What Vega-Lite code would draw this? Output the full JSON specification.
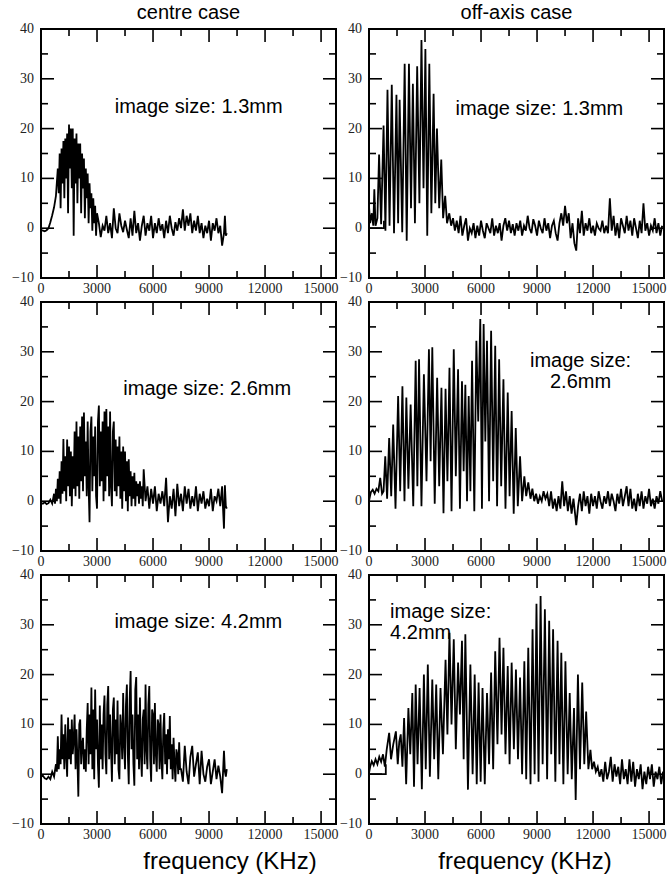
{
"$schema":"https://vega.github.io/schema/vega-lite/v6.json",
"background":"white",
"padding":{"left":11,"top":2,"right":0,"bottom":0},
"config":{
 "view":{"stroke":"black","strokeWidth":2},
 "title":{"font":"Liberation Sans","fontSize":20,"fontWeight":"normal","color":"black","offset":-1},
 "line":{"color":"black","strokeWidth":1.8},
 "rule":{"color":"black","strokeWidth":1.6},
 "text":{"font":"Liberation Sans","fontSize":20,"color":"black"}
},
"datasets":{
"xl":[{"v":0},{"v":3000},{"v":6000},{"v":9000},{"v":12000},{"v":15000}],
"xm":[{"v":1500},{"v":4500},{"v":7500},{"v":10500},{"v":13500}],
"yl":[{"v":-10},{"v":0},{"v":10},{"v":20},{"v":30},{"v":40}],
"ym":[{"v":-5},{"v":5},{"v":15},{"v":25},{"v":35}],
"a":[{"x":0,"y":-0.3},{"x":100,"y":-0.5},{"x":200,"y":-0.6},{"x":300,"y":-0.4},{"x":400,"y":0},{"x":500,"y":1.2},{"x":600,"y":2.6},{"x":700,"y":4.2},{"x":800,"y":6.5},{"x":900,"y":12},{"x":950,"y":7},{"x":1000,"y":15},{"x":1050,"y":4},{"x":1100,"y":16},{"x":1150,"y":9},{"x":1200,"y":17.5},{"x":1250,"y":6},{"x":1300,"y":18},{"x":1350,"y":10},{"x":1400,"y":19},{"x":1450,"y":3},{"x":1500,"y":20.8},{"x":1550,"y":12},{"x":1600,"y":20},{"x":1650,"y":8},{"x":1700,"y":20},{"x":1750,"y":-1.5},{"x":1800,"y":18},{"x":1850,"y":9},{"x":1900,"y":19},{"x":1950,"y":5},{"x":2000,"y":17},{"x":2050,"y":10},{"x":2100,"y":17},{"x":2150,"y":3},{"x":2200,"y":15},{"x":2250,"y":8},{"x":2300,"y":14},{"x":2350,"y":2},{"x":2400,"y":12},{"x":2450,"y":6},{"x":2500,"y":11},{"x":2550,"y":1},{"x":2600,"y":9},{"x":2650,"y":4},{"x":2700,"y":7},{"x":2750,"y":-0.5},{"x":2800,"y":6},{"x":2850,"y":1},{"x":2900,"y":4.5},{"x":2950,"y":-1.5},{"x":3000,"y":3},{"x":3100,"y":1},{"x":3200,"y":-1.8},{"x":3300,"y":0.5},{"x":3400,"y":-0.5},{"x":3500,"y":2.5},{"x":3600,"y":-1},{"x":3700,"y":1},{"x":3800,"y":-2},{"x":3900,"y":4},{"x":4000,"y":0},{"x":4100,"y":-1},{"x":4200,"y":3},{"x":4300,"y":0.5},{"x":4400,"y":-0.8},{"x":4500,"y":1.5},{"x":4600,"y":-0.3},{"x":4700,"y":-2},{"x":4800,"y":2},{"x":4900,"y":-1.5},{"x":5000,"y":3.5},{"x":5100,"y":-1},{"x":5200,"y":1},{"x":5300,"y":-2.5},{"x":5400,"y":0.5},{"x":5500,"y":2.5},{"x":5600,"y":-1.5},{"x":5700,"y":1},{"x":5800,"y":-0.5},{"x":5900,"y":2.5},{"x":6000,"y":-2},{"x":6100,"y":1},{"x":6200,"y":-1},{"x":6300,"y":2},{"x":6400,"y":-0.5},{"x":6500,"y":0.8},{"x":6600,"y":-2},{"x":6700,"y":1.5},{"x":6800,"y":-1},{"x":6900,"y":2.5},{"x":7000,"y":0},{"x":7100,"y":-1.5},{"x":7200,"y":1.2},{"x":7300,"y":-0.5},{"x":7400,"y":2},{"x":7500,"y":0},{"x":7600,"y":3.8},{"x":7700,"y":-0.5},{"x":7800,"y":2.5},{"x":7900,"y":0.5},{"x":8000,"y":3},{"x":8100,"y":-1},{"x":8200,"y":1.5},{"x":8300,"y":-0.5},{"x":8400,"y":2.5},{"x":8500,"y":-1},{"x":8600,"y":1},{"x":8700,"y":-2},{"x":8800,"y":0.5},{"x":8900,"y":-1},{"x":9000,"y":1.5},{"x":9100,"y":-2.5},{"x":9200,"y":1},{"x":9300,"y":-0.5},{"x":9400,"y":2},{"x":9500,"y":-1},{"x":9600,"y":0.5},{"x":9700,"y":-3.5},{"x":9800,"y":-1},{"x":9850,"y":2.5},{"x":9900,"y":-1.5},{"x":9950,"y":-1}],
"b":[{"x":0,"y":0,"s":"r"},{"x":800,"y":0,"s":"r"},{"x":800,"y":1.5,"s":"r"},{"x":0,"y":4.5},{"x":60,"y":1},{"x":150,"y":3},{"x":230,"y":0.5},{"x":285,"y":7.8},{"x":350,"y":0.5},{"x":450,"y":2},{"x":540,"y":14.8},{"x":650,"y":0.8},{"x":780,"y":20.6},{"x":880,"y":-0.5},{"x":990,"y":27.8},{"x":1100,"y":0.5},{"x":1220,"y":28.8},{"x":1340,"y":-1},{"x":1470,"y":26.8},{"x":1560,"y":1},{"x":1640,"y":25.8},{"x":1780,"y":-0.8},{"x":1910,"y":33},{"x":2020,"y":-2.5},{"x":2140,"y":33},{"x":2250,"y":4},{"x":2350,"y":29},{"x":2460,"y":1},{"x":2580,"y":32.5},{"x":2700,"y":5},{"x":2810,"y":37.8},{"x":2920,"y":8},{"x":3020,"y":36},{"x":3120,"y":-1.5},{"x":3230,"y":33},{"x":3340,"y":3},{"x":3460,"y":27},{"x":3550,"y":5},{"x":3640,"y":20},{"x":3760,"y":4},{"x":3870,"y":13.8},{"x":3970,"y":2},{"x":4080,"y":6.5},{"x":4180,"y":1},{"x":4300,"y":3},{"x":4400,"y":0.5},{"x":4500,"y":2},{"x":4600,"y":-0.5},{"x":4700,"y":1.5},{"x":4800,"y":-1},{"x":4900,"y":2.5},{"x":5000,"y":-1.5},{"x":5100,"y":0.5},{"x":5200,"y":2},{"x":5300,"y":-2.5},{"x":5400,"y":0},{"x":5500,"y":-1},{"x":5600,"y":1},{"x":5700,"y":-2},{"x":5800,"y":0.5},{"x":5900,"y":-1.5},{"x":6000,"y":1.5},{"x":6100,"y":-0.5},{"x":6200,"y":-2},{"x":6300,"y":1},{"x":6400,"y":0},{"x":6500,"y":-1},{"x":6600,"y":2},{"x":6700,"y":-1.5},{"x":6800,"y":0.5},{"x":6900,"y":-1},{"x":7000,"y":1},{"x":7100,"y":-2.5},{"x":7200,"y":0.5},{"x":7300,"y":2},{"x":7400,"y":-0.5},{"x":7500,"y":1.5},{"x":7600,"y":-1},{"x":7700,"y":0.8},{"x":7800,"y":-1.5},{"x":7900,"y":1},{"x":8000,"y":-0.5},{"x":8100,"y":1.5},{"x":8200,"y":-1.5},{"x":8300,"y":0.5},{"x":8400,"y":-0.5},{"x":8500,"y":2.5},{"x":8600,"y":0},{"x":8700,"y":-1},{"x":8800,"y":1.8},{"x":8900,"y":0.5},{"x":9000,"y":-1.5},{"x":9100,"y":1.5},{"x":9200,"y":0},{"x":9300,"y":-1},{"x":9400,"y":2},{"x":9500,"y":-0.5},{"x":9600,"y":1},{"x":9700,"y":-2},{"x":9800,"y":0.5},{"x":9900,"y":1.5},{"x":10000,"y":-1},{"x":10100,"y":-2.5},{"x":10200,"y":1},{"x":10300,"y":3},{"x":10400,"y":0.5},{"x":10500,"y":4.5},{"x":10600,"y":1},{"x":10700,"y":3},{"x":10800,"y":-2},{"x":10900,"y":1},{"x":11000,"y":-3},{"x":11100,"y":-4.5},{"x":11200,"y":2},{"x":11300,"y":-1},{"x":11400,"y":3.5},{"x":11500,"y":-1.5},{"x":11600,"y":1},{"x":11700,"y":-0.5},{"x":11800,"y":2},{"x":11900,"y":-1},{"x":12000,"y":0.5},{"x":12100,"y":-1.5},{"x":12200,"y":1},{"x":12300,"y":0},{"x":12400,"y":-0.5},{"x":12500,"y":1.5},{"x":12600,"y":-1},{"x":12700,"y":0.5},{"x":12800,"y":-1},{"x":12900,"y":6},{"x":13000,"y":-0.5},{"x":13100,"y":2.5},{"x":13200,"y":-1.5},{"x":13300,"y":1},{"x":13400,"y":-2},{"x":13500,"y":2},{"x":13600,"y":0.5},{"x":13700,"y":-1},{"x":13800,"y":2.5},{"x":13900,"y":-0.5},{"x":14000,"y":1.5},{"x":14100,"y":-1.5},{"x":14200,"y":2},{"x":14300,"y":0},{"x":14400,"y":-2},{"x":14500,"y":1.5},{"x":14600,"y":-1},{"x":14700,"y":5},{"x":14800,"y":-0.5},{"x":14900,"y":1},{"x":15000,"y":-1.5},{"x":15100,"y":0.5},{"x":15200,"y":-0.5},{"x":15300,"y":2},{"x":15400,"y":-1},{"x":15500,"y":1},{"x":15600,"y":-1.5},{"x":15700,"y":0.5}],
"c":[{"x":0,"y":-0.3},{"x":100,"y":-0.5},{"x":200,"y":-0.2},{"x":300,"y":-0.6},{"x":400,"y":-0.4},{"x":500,"y":0.3},{"x":600,"y":-0.5},{"x":700,"y":1.5},{"x":750,"y":-0.5},{"x":800,"y":2.5},{"x":850,"y":0},{"x":900,"y":4.5},{"x":950,"y":0.5},{"x":1000,"y":6},{"x":1050,"y":-0.5},{"x":1100,"y":8},{"x":1150,"y":1.5},{"x":1200,"y":12.5},{"x":1250,"y":2},{"x":1300,"y":9},{"x":1350,"y":0},{"x":1400,"y":12.4},{"x":1450,"y":3},{"x":1500,"y":11},{"x":1550,"y":1},{"x":1600,"y":10},{"x":1650,"y":-1},{"x":1700,"y":9},{"x":1750,"y":2.5},{"x":1800,"y":14},{"x":1850,"y":1},{"x":1900,"y":16},{"x":1950,"y":3},{"x":2000,"y":13},{"x":2050,"y":0.5},{"x":2100,"y":15},{"x":2150,"y":4},{"x":2200,"y":17},{"x":2250,"y":2},{"x":2300,"y":17.8},{"x":2350,"y":5},{"x":2400,"y":12},{"x":2450,"y":1},{"x":2500,"y":16},{"x":2550,"y":3},{"x":2600,"y":-4.2},{"x":2650,"y":14},{"x":2700,"y":17},{"x":2750,"y":2},{"x":2800,"y":13},{"x":2850,"y":5},{"x":2900,"y":15},{"x":2950,"y":1},{"x":3000,"y":-1.5},{"x":3050,"y":16},{"x":3100,"y":19.2},{"x":3150,"y":3},{"x":3200,"y":14},{"x":3250,"y":4},{"x":3300,"y":16},{"x":3350,"y":0},{"x":3400,"y":18},{"x":3450,"y":2},{"x":3500,"y":18.5},{"x":3550,"y":5},{"x":3600,"y":15},{"x":3650,"y":1},{"x":3700,"y":18},{"x":3750,"y":3},{"x":3800,"y":-1},{"x":3850,"y":14},{"x":3900,"y":16},{"x":3950,"y":2},{"x":4000,"y":12.4},{"x":4050,"y":1},{"x":4100,"y":11},{"x":4150,"y":3},{"x":4200,"y":13},{"x":4250,"y":0.5},{"x":4300,"y":10},{"x":4350,"y":-1.5},{"x":4400,"y":11},{"x":4450,"y":2},{"x":4500,"y":10},{"x":4550,"y":0},{"x":4600,"y":8},{"x":4650,"y":-2},{"x":4700,"y":8.4},{"x":4750,"y":1},{"x":4800,"y":6},{"x":4850,"y":-1},{"x":4900,"y":5},{"x":4950,"y":0.5},{"x":5000,"y":5.7},{"x":5050,"y":-1},{"x":5100,"y":4},{"x":5150,"y":1},{"x":5200,"y":3.5},{"x":5250,"y":-0.5},{"x":5300,"y":4},{"x":5350,"y":0.5},{"x":5400,"y":3},{"x":5450,"y":-1},{"x":5500,"y":6.4},{"x":5600,"y":0},{"x":5700,"y":3},{"x":5800,"y":-1.5},{"x":5900,"y":2.5},{"x":6000,"y":-0.5},{"x":6100,"y":3},{"x":6200,"y":-2},{"x":6300,"y":1.5},{"x":6400,"y":-0.5},{"x":6500,"y":2},{"x":6600,"y":-1},{"x":6700,"y":4.7},{"x":6800,"y":-4.2},{"x":6900,"y":1},{"x":7000,"y":-1.5},{"x":7100,"y":2.5},{"x":7200,"y":-3},{"x":7300,"y":3.5},{"x":7400,"y":-1},{"x":7500,"y":1.5},{"x":7600,"y":-2},{"x":7700,"y":3},{"x":7800,"y":-0.5},{"x":7900,"y":2.5},{"x":8000,"y":-1.5},{"x":8100,"y":1},{"x":8200,"y":-1},{"x":8300,"y":3},{"x":8400,"y":-2},{"x":8500,"y":1.5},{"x":8600,"y":-0.5},{"x":8700,"y":2},{"x":8800,"y":-1.5},{"x":8900,"y":0.5},{"x":9000,"y":-1},{"x":9100,"y":2.5},{"x":9200,"y":-2},{"x":9300,"y":1},{"x":9400,"y":0},{"x":9500,"y":2.5},{"x":9600,"y":-1},{"x":9700,"y":3},{"x":9750,"y":-1.5},{"x":9800,"y":-5.5},{"x":9850,"y":3.2},{"x":9900,"y":-1},{"x":9950,"y":-1.5}],
"d":[{"x":0,"y":0},{"x":50,"y":1},{"x":100,"y":1.8},{"x":200,"y":2.3},{"x":300,"y":1.5},{"x":400,"y":2.5},{"x":500,"y":2},{"x":600,"y":4.7},{"x":700,"y":1.5},{"x":780,"y":2},{"x":870,"y":9},{"x":970,"y":0.5},{"x":1080,"y":12.7},{"x":1190,"y":1},{"x":1295,"y":15.4},{"x":1420,"y":-1.5},{"x":1560,"y":21.1},{"x":1670,"y":2},{"x":1790,"y":23.1},{"x":1900,"y":0},{"x":2000,"y":20.8},{"x":2110,"y":2.5},{"x":2230,"y":19.4},{"x":2370,"y":-1},{"x":2500,"y":28.2},{"x":2590,"y":3},{"x":2680,"y":28.5},{"x":2810,"y":-1},{"x":2940,"y":25.5},{"x":3080,"y":4},{"x":3210,"y":30.5},{"x":3300,"y":8},{"x":3390,"y":30.9},{"x":3520,"y":-0.5},{"x":3650,"y":24.8},{"x":3760,"y":3},{"x":3880,"y":22.8},{"x":3990,"y":-2.4},{"x":4100,"y":22.6},{"x":4200,"y":4},{"x":4310,"y":26.8},{"x":4420,"y":-2},{"x":4540,"y":30.5},{"x":4650,"y":5},{"x":4770,"y":26.5},{"x":4870,"y":-1.5},{"x":4980,"y":24.1},{"x":5070,"y":6},{"x":5160,"y":23.4},{"x":5250,"y":0},{"x":5340,"y":21.1},{"x":5430,"y":2},{"x":5520,"y":28.2},{"x":5640,"y":-2},{"x":5750,"y":32.2},{"x":5850,"y":16},{"x":5960,"y":36.6},{"x":6050,"y":-1.5},{"x":6140,"y":35.6},{"x":6230,"y":12},{"x":6320,"y":32.2},{"x":6430,"y":0},{"x":6540,"y":34.2},{"x":6650,"y":4},{"x":6760,"y":31.2},{"x":6860,"y":-1},{"x":6970,"y":28.5},{"x":7080,"y":3},{"x":7200,"y":24.5},{"x":7310,"y":-1.5},{"x":7430,"y":21.8},{"x":7530,"y":1},{"x":7640,"y":18.1},{"x":7750,"y":-2.5},{"x":7860,"y":14.7},{"x":7970,"y":-1},{"x":8090,"y":9},{"x":8200,"y":0},{"x":8320,"y":5},{"x":8420,"y":1},{"x":8530,"y":3.8},{"x":8650,"y":0.5},{"x":8750,"y":2.5},{"x":8850,"y":0},{"x":8950,"y":1.5},{"x":9050,"y":-0.5},{"x":9150,"y":1},{"x":9250,"y":0},{"x":9350,"y":2},{"x":9450,"y":0.5},{"x":9550,"y":1.5},{"x":9650,"y":-1},{"x":9750,"y":2},{"x":9850,"y":-1.5},{"x":9950,"y":0.5},{"x":10050,"y":-2},{"x":10150,"y":1},{"x":10250,"y":-1.5},{"x":10350,"y":4},{"x":10450,"y":-1},{"x":10550,"y":2},{"x":10650,"y":-2},{"x":10750,"y":1},{"x":10850,"y":-2.5},{"x":10950,"y":0.5},{"x":11050,"y":-3},{"x":11100,"y":-4.8},{"x":11200,"y":-1},{"x":11300,"y":1.5},{"x":11400,"y":-2},{"x":11500,"y":2},{"x":11600,"y":-1},{"x":11700,"y":1},{"x":11800,"y":-2.5},{"x":11900,"y":1.5},{"x":12000,"y":-1},{"x":12100,"y":1},{"x":12200,"y":-1.5},{"x":12300,"y":2},{"x":12400,"y":0},{"x":12500,"y":-1.5},{"x":12600,"y":1},{"x":12700,"y":-0.5},{"x":12800,"y":2},{"x":12900,"y":-1},{"x":13000,"y":1.5},{"x":13100,"y":0},{"x":13200,"y":-2},{"x":13300,"y":1.5},{"x":13400,"y":-0.5},{"x":13500,"y":2.5},{"x":13600,"y":-1},{"x":13700,"y":1},{"x":13800,"y":3},{"x":13900,"y":-1},{"x":14000,"y":2.5},{"x":14100,"y":-1.5},{"x":14200,"y":0.5},{"x":14300,"y":-2},{"x":14400,"y":1.5},{"x":14500,"y":-1},{"x":14600,"y":2},{"x":14700,"y":-1.5},{"x":14800,"y":1},{"x":14900,"y":-0.5},{"x":15000,"y":2.5},{"x":15100,"y":-1},{"x":15200,"y":0.5},{"x":15300,"y":-1.5},{"x":15400,"y":1},{"x":15500,"y":-0.5},{"x":15600,"y":2},{"x":15700,"y":0}],
"e":[{"x":0,"y":-0.5},{"x":100,"y":-0.3},{"x":200,"y":-0.8},{"x":300,"y":-1},{"x":400,"y":-0.5},{"x":500,"y":-1},{"x":600,"y":0.5},{"x":700,"y":-0.5},{"x":800,"y":2},{"x":850,"y":0.5},{"x":900,"y":7.6},{"x":950,"y":1},{"x":1000,"y":5},{"x":1050,"y":2},{"x":1100,"y":12},{"x":1150,"y":3},{"x":1200,"y":8},{"x":1250,"y":1},{"x":1300,"y":10},{"x":1350,"y":4},{"x":1400,"y":-0.5},{"x":1450,"y":11.4},{"x":1500,"y":3},{"x":1550,"y":9},{"x":1600,"y":2},{"x":1650,"y":11},{"x":1700,"y":4},{"x":1750,"y":7},{"x":1800,"y":12},{"x":1850,"y":1},{"x":1900,"y":9},{"x":1950,"y":3},{"x":2000,"y":-4.5},{"x":2050,"y":10},{"x":2100,"y":11},{"x":2150,"y":2},{"x":2200,"y":6},{"x":2250,"y":7.3},{"x":2300,"y":1},{"x":2350,"y":5},{"x":2400,"y":0.5},{"x":2450,"y":9},{"x":2500,"y":14.3},{"x":2550,"y":2},{"x":2600,"y":12},{"x":2650,"y":4},{"x":2700,"y":17.4},{"x":2750,"y":1},{"x":2800,"y":13},{"x":2850,"y":-1},{"x":2900,"y":17},{"x":2950,"y":5},{"x":3000,"y":11},{"x":3050,"y":2},{"x":3100,"y":-2.7},{"x":3150,"y":13.8},{"x":3200,"y":3},{"x":3250,"y":10},{"x":3300,"y":1},{"x":3350,"y":12},{"x":3400,"y":15.8},{"x":3450,"y":4},{"x":3500,"y":0},{"x":3550,"y":14},{"x":3600,"y":17.7},{"x":3650,"y":3},{"x":3700,"y":12},{"x":3750,"y":5},{"x":3800,"y":-1.5},{"x":3850,"y":13},{"x":3900,"y":15.4},{"x":3950,"y":2},{"x":4000,"y":11},{"x":4050,"y":4},{"x":4100,"y":14.8},{"x":4150,"y":1},{"x":4200,"y":-1},{"x":4250,"y":12},{"x":4300,"y":9},{"x":4350,"y":3},{"x":4400,"y":16.3},{"x":4450,"y":6},{"x":4500,"y":1},{"x":4550,"y":14},{"x":4600,"y":18},{"x":4650,"y":4},{"x":4700,"y":-2},{"x":4750,"y":15},{"x":4800,"y":20.7},{"x":4850,"y":5},{"x":4900,"y":12},{"x":4950,"y":2},{"x":5000,"y":-2.3},{"x":5050,"y":17},{"x":5100,"y":19.5},{"x":5150,"y":3},{"x":5200,"y":12},{"x":5250,"y":1},{"x":5300,"y":15.4},{"x":5350,"y":4},{"x":5400,"y":-0.5},{"x":5450,"y":11},{"x":5500,"y":13},{"x":5550,"y":2},{"x":5600,"y":18},{"x":5650,"y":5},{"x":5700,"y":1},{"x":5750,"y":14},{"x":5800,"y":17.7},{"x":5850,"y":3},{"x":5900,"y":-1.5},{"x":5950,"y":13},{"x":6000,"y":12},{"x":6050,"y":2},{"x":6100,"y":14.3},{"x":6150,"y":4},{"x":6200,"y":0.5},{"x":6250,"y":11},{"x":6300,"y":10},{"x":6350,"y":1},{"x":6400,"y":12},{"x":6450,"y":3},{"x":6500,"y":-1},{"x":6550,"y":9},{"x":6600,"y":12.3},{"x":6650,"y":2},{"x":6700,"y":8},{"x":6750,"y":0},{"x":6800,"y":9},{"x":6850,"y":3},{"x":6900,"y":11.7},{"x":6950,"y":1},{"x":7000,"y":6},{"x":7050,"y":-1},{"x":7100,"y":7.3},{"x":7150,"y":2},{"x":7200,"y":-1.5},{"x":7250,"y":5},{"x":7300,"y":4},{"x":7350,"y":0},{"x":7400,"y":6.4},{"x":7450,"y":1},{"x":7500,"y":1},{"x":7600,"y":-1.5},{"x":7700,"y":5.7},{"x":7800,"y":0.5},{"x":7900,"y":-2},{"x":8000,"y":3.5},{"x":8100,"y":5.7},{"x":8200,"y":-0.5},{"x":8300,"y":2},{"x":8400,"y":4.4},{"x":8500,"y":-2},{"x":8600,"y":4.7},{"x":8700,"y":0},{"x":8800,"y":-1.5},{"x":8900,"y":1.5},{"x":9000,"y":3},{"x":9100,"y":-2},{"x":9200,"y":0.5},{"x":9300,"y":3},{"x":9400,"y":-1},{"x":9500,"y":1.7},{"x":9600,"y":-0.5},{"x":9700,"y":-3.8},{"x":9800,"y":4.7},{"x":9850,"y":0.5},{"x":9900,"y":-0.5},{"x":9950,"y":1}],
"f":[{"x":0,"y":0,"s":"r"},{"x":900,"y":0,"s":"r"},{"x":900,"y":2,"s":"r"},{"x":0,"y":0.2},{"x":60,"y":1.5},{"x":150,"y":2.6},{"x":250,"y":1.8},{"x":350,"y":3},{"x":450,"y":2},{"x":550,"y":3.5},{"x":650,"y":2.5},{"x":750,"y":4},{"x":850,"y":1.5},{"x":950,"y":5},{"x":1080,"y":8.3},{"x":1180,"y":3},{"x":1300,"y":6},{"x":1440,"y":8.6},{"x":1540,"y":2},{"x":1620,"y":6.5},{"x":1700,"y":8},{"x":1790,"y":1.5},{"x":1880,"y":11.3},{"x":1990,"y":-2},{"x":2110,"y":13.3},{"x":2210,"y":4},{"x":2320,"y":16.3},{"x":2410,"y":-2.5},{"x":2500,"y":18},{"x":2600,"y":2},{"x":2710,"y":17.3},{"x":2830,"y":-3},{"x":2940,"y":20},{"x":3040,"y":1},{"x":3150,"y":22},{"x":3260,"y":-0.5},{"x":3390,"y":19},{"x":3490,"y":3},{"x":3600,"y":18},{"x":3710,"y":-1},{"x":3830,"y":17.3},{"x":3960,"y":4},{"x":4100,"y":23},{"x":4200,"y":8},{"x":4310,"y":28.4},{"x":4420,"y":10},{"x":4540,"y":27.1},{"x":4650,"y":5},{"x":4770,"y":22.4},{"x":4870,"y":12},{"x":4980,"y":26.8},{"x":5070,"y":3},{"x":5160,"y":28.1},{"x":5300,"y":-3.1},{"x":5430,"y":22},{"x":5550,"y":0},{"x":5660,"y":20},{"x":5770,"y":-2},{"x":5870,"y":18.4},{"x":5980,"y":-1.5},{"x":6080,"y":17.3},{"x":6200,"y":-2},{"x":6320,"y":16.3},{"x":6430,"y":2},{"x":6540,"y":20.4},{"x":6650,"y":1},{"x":6760,"y":24.7},{"x":6880,"y":6},{"x":6990,"y":27.4},{"x":7100,"y":8},{"x":7200,"y":25.4},{"x":7310,"y":4},{"x":7430,"y":21.7},{"x":7530,"y":2},{"x":7640,"y":22.4},{"x":7760,"y":5},{"x":7870,"y":21},{"x":7980,"y":3},{"x":8090,"y":19.4},{"x":8200,"y":0},{"x":8320,"y":22.7},{"x":8420,"y":-1},{"x":8530,"y":25.4},{"x":8650,"y":-2},{"x":8760,"y":29.1},{"x":8870,"y":0},{"x":8970,"y":34.2},{"x":9080,"y":-1.5},{"x":9190,"y":35.8},{"x":9300,"y":2},{"x":9420,"y":33.1},{"x":9540,"y":-1},{"x":9650,"y":30.8},{"x":9760,"y":4},{"x":9860,"y":29.1},{"x":9980,"y":-1.5},{"x":10100,"y":26.8},{"x":10200,"y":2},{"x":10300,"y":24.4},{"x":10410,"y":-2},{"x":10520,"y":22.7},{"x":10640,"y":0},{"x":10750,"y":16.3},{"x":10860,"y":-1},{"x":10980,"y":13.3},{"x":11070,"y":-5.2},{"x":11190,"y":20},{"x":11300,"y":1},{"x":11420,"y":18.4},{"x":11530,"y":2},{"x":11630,"y":12.6},{"x":11750,"y":1},{"x":11860,"y":4.9},{"x":11950,"y":1},{"x":12050,"y":2.5},{"x":12150,"y":0.5},{"x":12250,"y":1.5},{"x":12350,"y":-0.5},{"x":12450,"y":1},{"x":12550,"y":-1.5},{"x":12650,"y":2.5},{"x":12750,"y":-1},{"x":12850,"y":0.5},{"x":12950,"y":3.5},{"x":13050,"y":-1.5},{"x":13150,"y":2},{"x":13250,"y":-0.5},{"x":13350,"y":1.5},{"x":13450,"y":-2},{"x":13550,"y":3},{"x":13650,"y":-1},{"x":13750,"y":1},{"x":13850,"y":-2},{"x":13950,"y":3},{"x":14050,"y":-1.5},{"x":14150,"y":2.5},{"x":14250,"y":-2.5},{"x":14350,"y":1},{"x":14450,"y":-1},{"x":14550,"y":2},{"x":14650,"y":-3},{"x":14750,"y":0.5},{"x":14850,"y":-2},{"x":14950,"y":1.5},{"x":15050,"y":-1},{"x":15150,"y":2},{"x":15250,"y":-2.5},{"x":15350,"y":0.5},{"x":15450,"y":-1},{"x":15550,"y":1.5},{"x":15650,"y":-2},{"x":15750,"y":0.5}]
},
"columns":2,
"spacing":{"row":24,"column":33},
"bounds":"flush",
"concat":[
{"width":295,"height":249,"title":"centre case",
 "layer":[
  {"data":{"name":"a"},"mark":"line","encoding":{"x":{"field":"x","type":"quantitative","scale":{"domain":[0,15800],"nice":false,"zero":false},"axis":null},"y":{"field":"y","type":"quantitative","scale":{"domain":[-10,40],"nice":false,"zero":false},"axis":null},"detail":{"field":"s"}}},
  {"data":{"name":"xl"},"mark":"rule","encoding":{"x":{"field":"v","type":"quantitative","axis":null},"y":{"datum":-10,"axis":null},"y2":{"datum":-7.39}}},
  {"data":{"name":"xm"},"mark":"rule","encoding":{"x":{"field":"v","type":"quantitative","axis":null},"y":{"datum":-10,"axis":null},"y2":{"datum":-8.59}}},
  {"data":{"name":"xl"},"mark":"rule","encoding":{"x":{"field":"v","type":"quantitative","axis":null},"y":{"datum":40,"axis":null},"y2":{"datum":37.39}}},
  {"data":{"name":"xm"},"mark":"rule","encoding":{"x":{"field":"v","type":"quantitative","axis":null},"y":{"datum":40,"axis":null},"y2":{"datum":38.59}}},
  {"data":{"name":"yl"},"mark":"rule","encoding":{"y":{"field":"v","type":"quantitative","axis":null},"x":{"datum":0,"axis":null},"x2":{"datum":696}}},
  {"data":{"name":"ym"},"mark":"rule","encoding":{"y":{"field":"v","type":"quantitative","axis":null},"x":{"datum":0,"axis":null},"x2":{"datum":375}}},
  {"data":{"name":"yl"},"mark":"rule","encoding":{"y":{"field":"v","type":"quantitative","axis":null},"x":{"datum":15800,"axis":null},"x2":{"datum":15104}}},
  {"data":{"name":"ym"},"mark":"rule","encoding":{"y":{"field":"v","type":"quantitative","axis":null},"x":{"datum":15800,"axis":null},"x2":{"datum":15425}}},
  {"data":{"name":"xl"},"mark":{"type":"text","font":"Liberation Serif","fontSize":14,"color":"#222","align":"center","baseline":"top","dy":4},"encoding":{"x":{"field":"v","type":"quantitative","axis":null},"y":{"datum":-10,"axis":null},"text":{"field":"v","type":"quantitative","format":"d"}}},
  {"data":{"name":"yl"},"mark":{"type":"text","font":"Liberation Serif","fontSize":14,"color":"#222","align":"right","baseline":"middle","dx":-7},"encoding":{"y":{"field":"v","type":"quantitative","axis":null},"x":{"datum":0,"axis":null},"text":{"field":"v","type":"quantitative","format":"d"}}},
  {"data":{"values":[{}]},"mark":{"type":"text","text":"image size: 1.3mm","align":"left","baseline":"middle"},"encoding":{"x":{"datum":3950,"axis":null},"y":{"datum":24.3,"axis":null}}}
 ]},
{"width":295,"height":249,"title":"off-axis case",
 "layer":[
  {"data":{"name":"b"},"mark":"line","encoding":{"x":{"field":"x","type":"quantitative","scale":{"domain":[0,15800],"nice":false,"zero":false},"axis":null},"y":{"field":"y","type":"quantitative","scale":{"domain":[-10,40],"nice":false,"zero":false},"axis":null},"detail":{"field":"s"}}},
  {"data":{"name":"xl"},"mark":"rule","encoding":{"x":{"field":"v","type":"quantitative","axis":null},"y":{"datum":-10,"axis":null},"y2":{"datum":-7.39}}},
  {"data":{"name":"xm"},"mark":"rule","encoding":{"x":{"field":"v","type":"quantitative","axis":null},"y":{"datum":-10,"axis":null},"y2":{"datum":-8.59}}},
  {"data":{"name":"xl"},"mark":"rule","encoding":{"x":{"field":"v","type":"quantitative","axis":null},"y":{"datum":40,"axis":null},"y2":{"datum":37.39}}},
  {"data":{"name":"xm"},"mark":"rule","encoding":{"x":{"field":"v","type":"quantitative","axis":null},"y":{"datum":40,"axis":null},"y2":{"datum":38.59}}},
  {"data":{"name":"yl"},"mark":"rule","encoding":{"y":{"field":"v","type":"quantitative","axis":null},"x":{"datum":0,"axis":null},"x2":{"datum":696}}},
  {"data":{"name":"ym"},"mark":"rule","encoding":{"y":{"field":"v","type":"quantitative","axis":null},"x":{"datum":0,"axis":null},"x2":{"datum":375}}},
  {"data":{"name":"yl"},"mark":"rule","encoding":{"y":{"field":"v","type":"quantitative","axis":null},"x":{"datum":15800,"axis":null},"x2":{"datum":15104}}},
  {"data":{"name":"ym"},"mark":"rule","encoding":{"y":{"field":"v","type":"quantitative","axis":null},"x":{"datum":15800,"axis":null},"x2":{"datum":15425}}},
  {"data":{"name":"xl"},"mark":{"type":"text","font":"Liberation Serif","fontSize":14,"color":"#222","align":"center","baseline":"top","dy":4},"encoding":{"x":{"field":"v","type":"quantitative","axis":null},"y":{"datum":-10,"axis":null},"text":{"field":"v","type":"quantitative","format":"d"}}},
  {"data":{"name":"yl"},"mark":{"type":"text","font":"Liberation Serif","fontSize":14,"color":"#222","align":"right","baseline":"middle","dx":-7},"encoding":{"y":{"field":"v","type":"quantitative","axis":null},"x":{"datum":0,"axis":null},"text":{"field":"v","type":"quantitative","format":"d"}}},
  {"data":{"values":[{}]},"mark":{"type":"text","text":"image size: 1.3mm","align":"left","baseline":"middle"},"encoding":{"x":{"datum":4630,"axis":null},"y":{"datum":24,"axis":null}}}
 ]},
{"width":295,"height":249,
 "layer":[
  {"data":{"name":"c"},"mark":"line","encoding":{"x":{"field":"x","type":"quantitative","scale":{"domain":[0,15800],"nice":false,"zero":false},"axis":null},"y":{"field":"y","type":"quantitative","scale":{"domain":[-10,40],"nice":false,"zero":false},"axis":null},"detail":{"field":"s"}}},
  {"data":{"name":"xl"},"mark":"rule","encoding":{"x":{"field":"v","type":"quantitative","axis":null},"y":{"datum":-10,"axis":null},"y2":{"datum":-7.39}}},
  {"data":{"name":"xm"},"mark":"rule","encoding":{"x":{"field":"v","type":"quantitative","axis":null},"y":{"datum":-10,"axis":null},"y2":{"datum":-8.59}}},
  {"data":{"name":"xl"},"mark":"rule","encoding":{"x":{"field":"v","type":"quantitative","axis":null},"y":{"datum":40,"axis":null},"y2":{"datum":37.39}}},
  {"data":{"name":"xm"},"mark":"rule","encoding":{"x":{"field":"v","type":"quantitative","axis":null},"y":{"datum":40,"axis":null},"y2":{"datum":38.59}}},
  {"data":{"name":"yl"},"mark":"rule","encoding":{"y":{"field":"v","type":"quantitative","axis":null},"x":{"datum":0,"axis":null},"x2":{"datum":696}}},
  {"data":{"name":"ym"},"mark":"rule","encoding":{"y":{"field":"v","type":"quantitative","axis":null},"x":{"datum":0,"axis":null},"x2":{"datum":375}}},
  {"data":{"name":"yl"},"mark":"rule","encoding":{"y":{"field":"v","type":"quantitative","axis":null},"x":{"datum":15800,"axis":null},"x2":{"datum":15104}}},
  {"data":{"name":"ym"},"mark":"rule","encoding":{"y":{"field":"v","type":"quantitative","axis":null},"x":{"datum":15800,"axis":null},"x2":{"datum":15425}}},
  {"data":{"name":"xl"},"mark":{"type":"text","font":"Liberation Serif","fontSize":14,"color":"#222","align":"center","baseline":"top","dy":4},"encoding":{"x":{"field":"v","type":"quantitative","axis":null},"y":{"datum":-10,"axis":null},"text":{"field":"v","type":"quantitative","format":"d"}}},
  {"data":{"name":"yl"},"mark":{"type":"text","font":"Liberation Serif","fontSize":14,"color":"#222","align":"right","baseline":"middle","dx":-7},"encoding":{"y":{"field":"v","type":"quantitative","axis":null},"x":{"datum":0,"axis":null},"text":{"field":"v","type":"quantitative","format":"d"}}},
  {"data":{"values":[{}]},"mark":{"type":"text","text":"image size: 2.6mm","align":"left","baseline":"middle"},"encoding":{"x":{"datum":4410,"axis":null},"y":{"datum":22.5,"axis":null}}}
 ]},
{"width":295,"height":249,
 "layer":[
  {"data":{"name":"d"},"mark":"line","encoding":{"x":{"field":"x","type":"quantitative","scale":{"domain":[0,15800],"nice":false,"zero":false},"axis":null},"y":{"field":"y","type":"quantitative","scale":{"domain":[-10,40],"nice":false,"zero":false},"axis":null},"detail":{"field":"s"}}},
  {"data":{"name":"xl"},"mark":"rule","encoding":{"x":{"field":"v","type":"quantitative","axis":null},"y":{"datum":-10,"axis":null},"y2":{"datum":-7.39}}},
  {"data":{"name":"xm"},"mark":"rule","encoding":{"x":{"field":"v","type":"quantitative","axis":null},"y":{"datum":-10,"axis":null},"y2":{"datum":-8.59}}},
  {"data":{"name":"xl"},"mark":"rule","encoding":{"x":{"field":"v","type":"quantitative","axis":null},"y":{"datum":40,"axis":null},"y2":{"datum":37.39}}},
  {"data":{"name":"xm"},"mark":"rule","encoding":{"x":{"field":"v","type":"quantitative","axis":null},"y":{"datum":40,"axis":null},"y2":{"datum":38.59}}},
  {"data":{"name":"yl"},"mark":"rule","encoding":{"y":{"field":"v","type":"quantitative","axis":null},"x":{"datum":0,"axis":null},"x2":{"datum":696}}},
  {"data":{"name":"ym"},"mark":"rule","encoding":{"y":{"field":"v","type":"quantitative","axis":null},"x":{"datum":0,"axis":null},"x2":{"datum":375}}},
  {"data":{"name":"yl"},"mark":"rule","encoding":{"y":{"field":"v","type":"quantitative","axis":null},"x":{"datum":15800,"axis":null},"x2":{"datum":15104}}},
  {"data":{"name":"ym"},"mark":"rule","encoding":{"y":{"field":"v","type":"quantitative","axis":null},"x":{"datum":15800,"axis":null},"x2":{"datum":15425}}},
  {"data":{"name":"xl"},"mark":{"type":"text","font":"Liberation Serif","fontSize":14,"color":"#222","align":"center","baseline":"top","dy":4},"encoding":{"x":{"field":"v","type":"quantitative","axis":null},"y":{"datum":-10,"axis":null},"text":{"field":"v","type":"quantitative","format":"d"}}},
  {"data":{"name":"yl"},"mark":{"type":"text","font":"Liberation Serif","fontSize":14,"color":"#222","align":"right","baseline":"middle","dx":-7},"encoding":{"y":{"field":"v","type":"quantitative","axis":null},"x":{"datum":0,"axis":null},"text":{"field":"v","type":"quantitative","format":"d"}}},
  {"data":{"values":[{}]},"mark":{"type":"text","text":["image size:","2.6mm"],"align":"center","baseline":"middle","lineHeight":21},"encoding":{"x":{"datum":11330,"axis":null},"y":{"datum":28.2,"axis":null}}}
 ]},
{"width":295,"height":249,
 "layer":[
  {"data":{"name":"e"},"mark":"line","encoding":{"x":{"field":"x","type":"quantitative","scale":{"domain":[0,15800],"nice":false,"zero":false},"axis":null},"y":{"field":"y","type":"quantitative","scale":{"domain":[-10,40],"nice":false,"zero":false},"axis":null},"detail":{"field":"s"}}},
  {"data":{"name":"xl"},"mark":"rule","encoding":{"x":{"field":"v","type":"quantitative","axis":null},"y":{"datum":-10,"axis":null},"y2":{"datum":-7.39}}},
  {"data":{"name":"xm"},"mark":"rule","encoding":{"x":{"field":"v","type":"quantitative","axis":null},"y":{"datum":-10,"axis":null},"y2":{"datum":-8.59}}},
  {"data":{"name":"xl"},"mark":"rule","encoding":{"x":{"field":"v","type":"quantitative","axis":null},"y":{"datum":40,"axis":null},"y2":{"datum":37.39}}},
  {"data":{"name":"xm"},"mark":"rule","encoding":{"x":{"field":"v","type":"quantitative","axis":null},"y":{"datum":40,"axis":null},"y2":{"datum":38.59}}},
  {"data":{"name":"yl"},"mark":"rule","encoding":{"y":{"field":"v","type":"quantitative","axis":null},"x":{"datum":0,"axis":null},"x2":{"datum":696}}},
  {"data":{"name":"ym"},"mark":"rule","encoding":{"y":{"field":"v","type":"quantitative","axis":null},"x":{"datum":0,"axis":null},"x2":{"datum":375}}},
  {"data":{"name":"yl"},"mark":"rule","encoding":{"y":{"field":"v","type":"quantitative","axis":null},"x":{"datum":15800,"axis":null},"x2":{"datum":15104}}},
  {"data":{"name":"ym"},"mark":"rule","encoding":{"y":{"field":"v","type":"quantitative","axis":null},"x":{"datum":15800,"axis":null},"x2":{"datum":15425}}},
  {"data":{"name":"xl"},"mark":{"type":"text","font":"Liberation Serif","fontSize":14,"color":"#222","align":"center","baseline":"top","dy":4},"encoding":{"x":{"field":"v","type":"quantitative","axis":null},"y":{"datum":-10,"axis":null},"text":{"field":"v","type":"quantitative","format":"d"}}},
  {"data":{"name":"yl"},"mark":{"type":"text","font":"Liberation Serif","fontSize":14,"color":"#222","align":"right","baseline":"middle","dx":-7},"encoding":{"y":{"field":"v","type":"quantitative","axis":null},"x":{"datum":0,"axis":null},"text":{"field":"v","type":"quantitative","format":"d"}}},
  {"data":{"values":[{}]},"mark":{"type":"text","text":"frequency (KHz)","fontSize":24,"align":"center","baseline":"top","dy":26},"encoding":{"x":{"datum":10120,"axis":null},"y":{"datum":-10,"axis":null}}},
  {"data":{"values":[{}]},"mark":{"type":"text","text":"image size: 4.2mm","align":"left","baseline":"middle"},"encoding":{"x":{"datum":3930,"axis":null},"y":{"datum":30.5,"axis":null}}}
 ]},
{"width":295,"height":249,
 "layer":[
  {"data":{"name":"f"},"mark":"line","encoding":{"x":{"field":"x","type":"quantitative","scale":{"domain":[0,15800],"nice":false,"zero":false},"axis":null},"y":{"field":"y","type":"quantitative","scale":{"domain":[-10,40],"nice":false,"zero":false},"axis":null},"detail":{"field":"s"}}},
  {"data":{"name":"xl"},"mark":"rule","encoding":{"x":{"field":"v","type":"quantitative","axis":null},"y":{"datum":-10,"axis":null},"y2":{"datum":-7.39}}},
  {"data":{"name":"xm"},"mark":"rule","encoding":{"x":{"field":"v","type":"quantitative","axis":null},"y":{"datum":-10,"axis":null},"y2":{"datum":-8.59}}},
  {"data":{"name":"xl"},"mark":"rule","encoding":{"x":{"field":"v","type":"quantitative","axis":null},"y":{"datum":40,"axis":null},"y2":{"datum":37.39}}},
  {"data":{"name":"xm"},"mark":"rule","encoding":{"x":{"field":"v","type":"quantitative","axis":null},"y":{"datum":40,"axis":null},"y2":{"datum":38.59}}},
  {"data":{"name":"yl"},"mark":"rule","encoding":{"y":{"field":"v","type":"quantitative","axis":null},"x":{"datum":0,"axis":null},"x2":{"datum":696}}},
  {"data":{"name":"ym"},"mark":"rule","encoding":{"y":{"field":"v","type":"quantitative","axis":null},"x":{"datum":0,"axis":null},"x2":{"datum":375}}},
  {"data":{"name":"yl"},"mark":"rule","encoding":{"y":{"field":"v","type":"quantitative","axis":null},"x":{"datum":15800,"axis":null},"x2":{"datum":15104}}},
  {"data":{"name":"ym"},"mark":"rule","encoding":{"y":{"field":"v","type":"quantitative","axis":null},"x":{"datum":15800,"axis":null},"x2":{"datum":15425}}},
  {"data":{"name":"xl"},"mark":{"type":"text","font":"Liberation Serif","fontSize":14,"color":"#222","align":"center","baseline":"top","dy":4},"encoding":{"x":{"field":"v","type":"quantitative","axis":null},"y":{"datum":-10,"axis":null},"text":{"field":"v","type":"quantitative","format":"d"}}},
  {"data":{"name":"yl"},"mark":{"type":"text","font":"Liberation Serif","fontSize":14,"color":"#222","align":"right","baseline":"middle","dx":-7},"encoding":{"y":{"field":"v","type":"quantitative","axis":null},"x":{"datum":0,"axis":null},"text":{"field":"v","type":"quantitative","format":"d"}}},
  {"data":{"values":[{}]},"mark":{"type":"text","text":"frequency (KHz)","fontSize":24,"align":"center","baseline":"top","dy":26},"encoding":{"x":{"datum":8355,"axis":null},"y":{"datum":-10,"axis":null}}},
  {"data":{"values":[{}]},"mark":{"type":"text","text":["image size:","4.2mm"],"align":"left","baseline":"middle","lineHeight":21},"encoding":{"x":{"datum":1130,"axis":null},"y":{"datum":32.6,"axis":null}}}
 ]}
]
}
